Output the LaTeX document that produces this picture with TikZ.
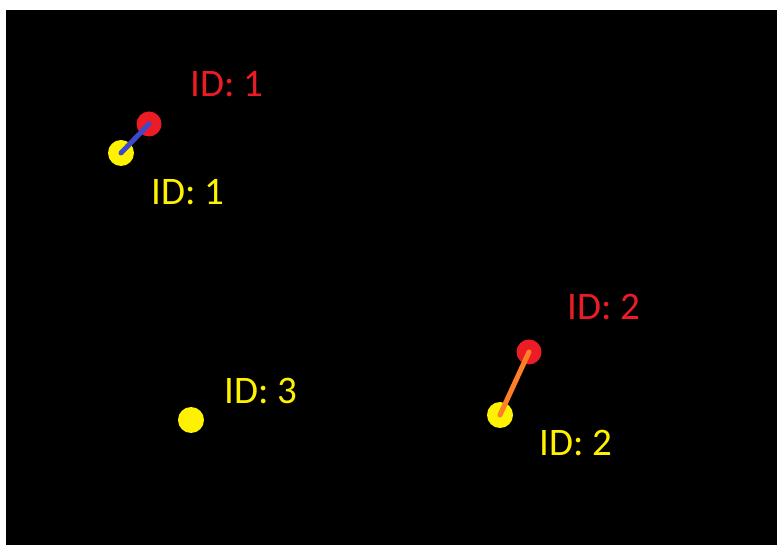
\documentclass[tikz,border=0pt]{standalone}
\usepackage{fontspec}
\setmainfont{Carlito}
\definecolor{ired}{RGB}{236,28,36}
\definecolor{iyel}{RGB}{255,242,0}
\definecolor{iblue}{RGB}{63,72,204}
\definecolor{iorange}{RGB}{255,127,39}
\tikzset{
  reddot/.style={circle,fill=ired,minimum size=25pt,inner sep=0pt},
  yeldot/.style={circle,fill=iyel,minimum size=26pt,inner sep=0pt},
  redlab/.style={text=ired,anchor=base west,inner sep=0pt,font=\fontsize{39}{42}\selectfont},
  yellab/.style={text=iyel,anchor=base west,inner sep=0pt,font=\fontsize{39}{42}\selectfont},
  link/.style={line width=5pt,line cap=round}
}
\begin{document}
\begin{tikzpicture}[x=1pt,y=-1pt]
\useasboundingbox (0,0) rectangle (777,545);
\fill[white] (0,0) rectangle (777,545);
\fill[black] (6,10) rectangle (777,545);
% track 1
\node[reddot] (r1) at (149,124) {};
\node[yeldot] (y1) at (121,153) {};
\draw[link,iblue] (y1.center) -- (r1.center);
\node[redlab] (lr1) at (190,97) {ID: 1};
\node[yellab] (ly1) at (151,205) {ID: 1};
% track 2
\node[reddot] (r2) at (529,352) {};
\node[yeldot] (y2) at (500,415) {};
\draw[link,iorange] (y2.center) -- (r2.center);
\node[redlab] (lr2) at (567,320) {ID: 2};
\node[yellab] (ly2) at (539,456) {ID: 2};
% track 3
\node[yeldot] (y3) at (191,420) {};
\node[yellab] (ly3) at (224,403) {ID: 3};
\end{tikzpicture}
\end{document}
